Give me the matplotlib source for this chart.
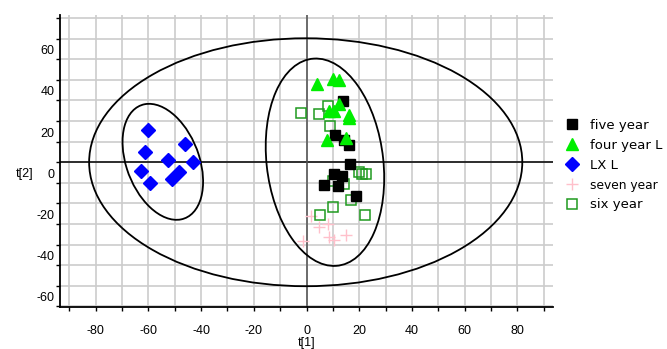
import numpy as np
import matplotlib
matplotlib.use("Agg")
import matplotlib.pyplot as plt
from matplotlib.patches import Ellipse
from matplotlib.transforms import ScaledTranslation

plt.rcParams["font.family"] = ["Liberation Sans", "DejaVu Sans"]
plt.rcParams["axes.unicode_minus"] = False

# score plot data (t[1], t[2])
five_x = [13.8, 10.9, 14.4, 16.3, 16.6, 10.4, 13.6, 6.8, 11.9, 18.9]
five_y = [29.5, 13.3, 10.9, 8.5, -0.9, -5.7, -6.9, -10.9, -11.7, -16.3]

four_x = [4.1, 10.0, 12.5, 12.3, 8.7, 10.3, 16.1, 16.3, 7.9, 14.8]
four_y = [38.1, 40.5, 40.0, 28.3, 24.7, 24.7, 23.1, 21.5, 10.9, 11.7]

lx_x = [-60.3, -46.0, -61.3, -52.7, -43.0, -62.9, -48.3, -51.2, -59.4]
lx_y = [15.8, 9.0, 4.8, 0.9, -0.1, -4.1, -4.5, -8.2, -10.1]

seven_x = [1.8, 4.7, 8.1, 14.8, 8.5, 10.4, -1.4]
seven_y = [-26.3, -31.6, -29.9, -35.2, -36.3, -38.0, -38.4]

six_x = [-2.0, 4.9, 8.1, 9.0, 19.9, 21.2, 22.4, 10.0, 14.2, 16.7, 10.0, 5.2, 22.2]
six_y = [23.9, 23.4, 27.1, 17.7, -4.9, -5.6, -5.7, -9.3, -10.6, -18.2, -21.5, -25.5, -25.5]

# ellipses: (centre x, centre y, width, height, angle)
hotelling = (-0.3, 0.0, 164.3, 120.4, 0.0)
lx_ellipse = (-54.5, 0.2, 57.6, 28.1, 103.8)
right_ellipse = (7.0, 0.0, 101.0, 44.3, 94.8)

x_ticks = [-80, -60, -40, -20, 0, 20, 40, 60, 80]
y_ticks = [-60, -40, -20, 0, 20, 40, 60]

fig = plt.figure(figsize=(6.67, 3.49), dpi=100)
ax = fig.add_axes([60 / 667, 1 - 307 / 349, 493 / 667, 292 / 349])

ax.set_xlim(-93.5, 93.5)
ax.set_ylim(-70.3, 71.5)

ax.set_xticks(x_ticks)
ax.set_yticks(y_ticks)
ax.set_xticks(np.arange(-90, 91, 10), minor=True)
ax.set_yticks(np.arange(-70, 71, 10), minor=True)
ax.grid(True, which="both", color="#cccccc", linewidth=1.2, zorder=0)
ax.set_axisbelow(True)

for s in ("top", "right"):
    ax.spines[s].set_visible(False)
for s in ("left", "bottom"):
    ax.spines[s].set_linewidth(1.3)
ax.tick_params(which="both", direction="out", length=3, width=1.0)
ax.tick_params(axis="x", pad=10, labelsize=9)
ax.tick_params(axis="y", pad=1, labelsize=9)
# y labels sit half a grid step below their lines in the original
off = ScaledTranslation(0, -11 / 100, fig.dpi_scale_trans)
for lab in ax.get_yticklabels():
    lab.set_transform(lab.get_transform() + off)

ax.axhline(0, color="black", linewidth=1.1, zorder=1)
ax.axvline(0, color="#505050", linewidth=1.1, zorder=1)

for cx, cy, w, h, ang in (hotelling, lx_ellipse, right_ellipse):
    ax.add_patch(Ellipse((cx, cy), w, h, angle=ang, fill=False,
                         edgecolor="black", linewidth=1.3, zorder=2))

ax.plot(seven_x, seven_y, linestyle="none", marker="+", markersize=8,
        markeredgewidth=1.0, color="#ffc0cb", label="seven year", zorder=3)
ax.plot(six_x, six_y, linestyle="none", marker="s", markersize=6.5,
        markerfacecolor="none", markeredgecolor="#1f9a1f", markeredgewidth=1.1,
        label="six year", zorder=4)
ax.plot(lx_x, lx_y, linestyle="none", marker="D", markersize=7,
        color="#0000ff", label="LX L", zorder=4)
ax.plot(five_x, five_y, linestyle="none", marker="s", markersize=7.5,
        color="black", label="five year", zorder=5)
ax.plot(four_x, four_y, linestyle="none", marker="^", markersize=9,
        color="#00ee00", label="four year L", zorder=6)

handles, labels = ax.get_legend_handles_labels()
order = ["five year", "four year L", "LX L", "seven year", "six year"]
hmap = dict(zip(labels, handles))
leg = ax.legend([hmap[k] for k in order], order, loc="upper left",
                bbox_to_anchor=(565 / 667, 1 - 119 / 349), bbox_transform=fig.transFigure,
                frameon=False, prop={"family": "DejaVu Sans", "size": 9.5},
                handlelength=1.0, handletextpad=0.9, labelspacing=0.52,
                borderaxespad=0, borderpad=0)
leg.get_texts()[3].set_fontsize(8.8)

fig.text(25 / 667, 1 - 174 / 349, "t[2]", fontsize=9, ha="center", va="center")
fig.text(307 / 667, 1 - 343 / 349, "t[1]", fontsize=9, ha="center", va="center")

fig.savefig("out.png", dpi=100, facecolor="white")
